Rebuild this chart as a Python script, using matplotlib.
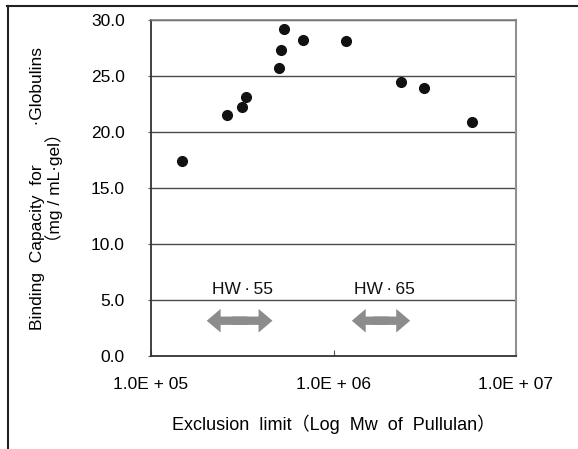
import numpy as np
import matplotlib
matplotlib.use('Agg')
import matplotlib.pyplot as plt
from matplotlib.patches import FancyArrowPatch
from matplotlib.lines import Line2D

plt.rcParams['font.family'] = ['Liberation Sans', 'Noto Sans CJK JP', 'DejaVu Sans']

# exclusion limit (pullulan Mw) vs binding capacity
mw = [1.47e5, 2.6e5, 3.14e5, 3.33e5, 5.0e5, 5.14e5, 5.38e5, 6.78e5, 1.175e6, 2.33e6, 3.12e6, 5.74e6]
capacity = [17.4, 21.5, 22.2, 23.1, 25.7, 27.3, 29.2, 28.2, 28.1, 24.5, 23.9, 20.9]

# resin exclusion ranges
resins = ['HW\u2009\u00b7\u200955', 'HW\u2009\u00b7\u200965']
resin_lo = [2.02e5, 1.26e6]
resin_hi = [4.63e5, 2.63e6]

yticks = [0, 5, 10, 15, 20, 25, 30]
xticks = [1e5, 1e6, 1e7]
xticklabels = ['1.0E + 05', '1.0E + 06', '1.0E + 07']

fig = plt.figure(figsize=(5.78, 4.49), dpi=100)
ax = fig.add_axes([151/578, 93/449, 365/578, 336/449])

ax.set_xscale('log')
ax.set_xlim(1e5, 1e7)
ax.set_ylim(0, 30)

for y in yticks[1:]:
    ax.axhline(y, color='#4a4a4a', lw=1.0, zorder=1)

ax.plot(mw, capacity, 'o', color='#111111', ms=7, zorder=3)

# double-headed arrows: two single heads with overlapping tails
for name, lo, hi in zip(resins, resin_lo, resin_hi):
    mid = np.sqrt(lo * hi)
    for start, end in ((mid * 1.1, lo), (mid / 1.1, hi)):
        arr = FancyArrowPatch((start, 3.15), (end, 3.15),
                              arrowstyle='simple,head_length=10,head_width=17,tail_width=6',
                              mutation_scale=1, shrinkA=0, shrinkB=0,
                              color='#8c8c8c', lw=0, zorder=2)
        ax.add_patch(arr)
    ax.text(mid * 1.04, 5.95, name, ha='center', va='center', fontsize=12.5, color='#111111')

ax.set_yticks(yticks)
ax.set_yticklabels(['%.1f' % v for v in yticks])
ax.set_xticks(xticks)
ax.set_xticklabels(xticklabels)
ax.minorticks_off()
ax.tick_params(axis='x', direction='in', length=4, pad=15, labelsize=12.5, color='#555555')
ax.tick_params(axis='y', direction='out', length=2, pad=17, labelsize=12.5, color='#555555')

ax.spines['left'].set_color('#333333')
ax.spines['bottom'].set_color('#333333')
ax.spines['left'].set_linewidth(1.3)
ax.spines['bottom'].set_linewidth(1.3)
ax.spines['right'].set_color('#909090')
ax.spines['right'].set_linewidth(1.5)
ax.spines['top'].set_color('#808080')
ax.spines['top'].set_linewidth(1.2)

ax.set_ylabel('Binding  Capacity  for        \u00b7Globulins\n\uff08mg / mL\u00b7gel\uff09',
              fontsize=12.5, linespacing=1.0, labelpad=20)
ax.set_xlabel('Exclusion  limit\uff08Log  Mw  of  Pullulan\uff09', fontsize=13, labelpad=16)

# outer frame
fig.add_artist(Line2D([7.5/578, 7.5/578], [0, 443/449], color='#222222', lw=1.5))
fig.add_artist(Line2D([7/578, 1], [443/449, 443/449], color='#222222', lw=1.5))

fig.savefig('out.png', dpi=100)
